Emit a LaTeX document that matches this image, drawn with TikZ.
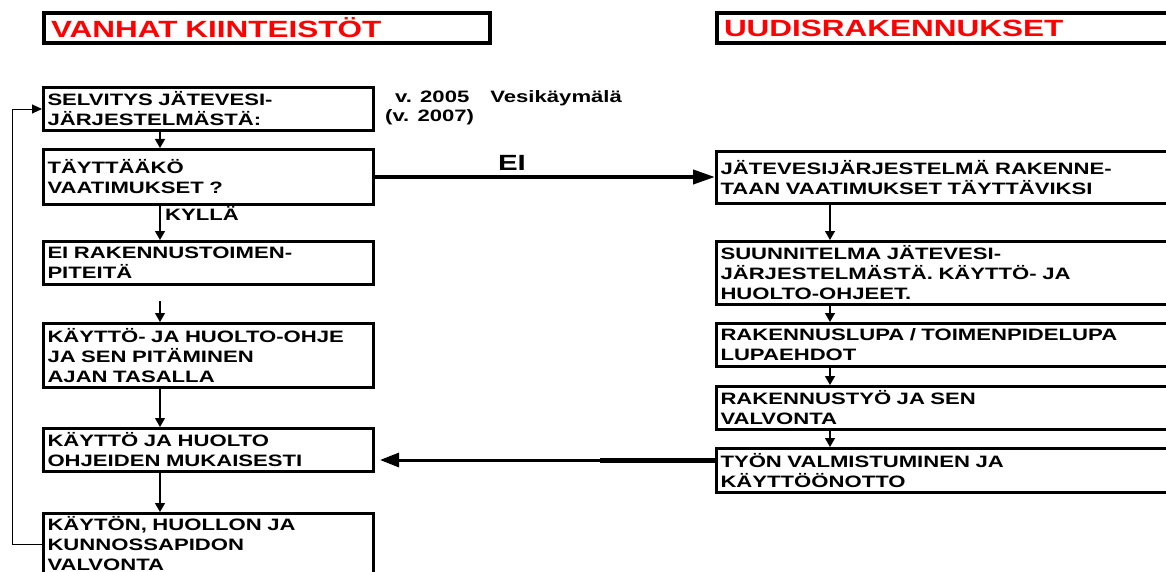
\documentclass[tikz,border=0pt]{standalone}
\usepackage{fontspec}
\setmainfont{Liberation Sans}
\newfontfamily\stretchf[FakeStretch=1.34]{Liberation Sans}
\usetikzlibrary{arrows.meta,calc}
\definecolor{titlered}{RGB}{255,0,0}
\begin{document}
\begin{tikzpicture}[x=1pt,y=-1pt,
  base/.style={draw,line width=3pt,anchor=north west,inner xsep=4pt,inner ysep=0pt,align=left,
    font=\stretchf\bfseries\fontsize{16.5}{20}\selectfont},
  lbox/.style={base,text width=322pt,minimum height=#1},
  rbox/.style={base,text width=452pt,minimum height=#1},
  titlebox/.style={draw,line width=4pt,anchor=north west,inner xsep=7pt,inner ysep=0pt,align=left,
    minimum height=30pt,text=titlered,font=\stretchf\bfseries\fontsize{23.5}{26}\selectfont},
  ann/.style={inner sep=0pt,anchor=base west,font=\stretchf\bfseries\fontsize{16.5}{20}\selectfont},
  lab/.style={inner sep=0pt,font=\stretchf\bfseries\fontsize{16.5}{20}\selectfont},
  arr/.style={line width=1.3pt,-{Triangle[length=9pt,width=10pt]}},
  fbarr/.style={line width=0.9pt,-{Triangle[length=10pt,width=9pt]}},
  bigarr/.style={line width=4pt,-{Triangle[length=22pt,width=14pt]}}
]
\useasboundingbox (0,0) rectangle (1166,572);
\fill[white] (0,0) rectangle (1166,572);

% titles
\node[titlebox,text width=432pt] (tl) at (42,11) {VANHAT KIINTEISTÖT};
\node[titlebox,text width=446pt] (tr) at (715,11) {UUDISRAKENNUKSET};

% left column
\node[lbox=43pt] (sel) at (42,86) {SELVITYS JÄTEVESI-\\JÄRJESTELMÄSTÄ:};
\node[lbox=55pt] (tay) at (42,148) {TÄYTTÄÄKÖ\\VAATIMUKSET ?};
\node[lbox=43pt] (eir) at (42,240) {EI RAKENNUSTOIMEN-\\PITEITÄ};
\node[lbox=64pt] (kho) at (42,322) {KÄYTTÖ- JA HUOLTO-OHJE\\JA SEN PITÄMINEN\\AJAN TASALLA};
\node[lbox=43pt] (kjh) at (42,427) {KÄYTTÖ JA HUOLTO\\OHJEIDEN MUKAISESTI};
\node[lbox=61pt] (kvn) at (42,512) {KÄYTÖN, HUOLLON JA\\KUNNOSSAPIDON\\VALVONTA};

% annotations
\node[ann] (a1) at (395,103) {v. 2005\hspace{21pt}Vesikäymälä};
\node[ann] (a2) at (385,122) {(v. 2007)};

% right column
\node[rbox=52pt] (jat) at (715,150) {JÄTEVESIJÄRJESTELMÄ RAKENNE-\\TAAN VAATIMUKSET TÄYTTÄVIKSI};
\node[rbox=63pt] (suu) at (715,240) {SUUNNITELMA JÄTEVESI-\\JÄRJESTELMÄSTÄ. KÄYTTÖ- JA\\HUOLTO-OHJEET.};
\node[rbox=43pt] (rlu) at (715,322) {RAKENNUSLUPA / TOIMENPIDELUPA\\LUPAEHDOT};
\node[rbox=43pt] (rty) at (715,385) {RAKENNUSTYÖ JA SEN\\VALVONTA};
\node[rbox=44pt] (tyo) at (715,447) {TYÖN VALMISTUMINEN JA\\KÄYTTÖÖNOTTO};

% helper coordinates
\coordinate (lx) at (160,0);
\coordinate (rx) at (830,0);
\coordinate (fb) at (12,0);
\coordinate (g1) at (160,301);

% left arrows
\draw[arr] (sel.south -| lx) -- (tay.north -| lx);
\draw[arr] (tay.south -| lx) -- (eir.north -| lx);
\node[lab,anchor=west] (kyl) at (165,213) {KYLLÄ};
\draw[arr] (g1) -- (kho.north -| g1);
\draw[arr] (kho.south -| lx) -- (kjh.north -| lx);
\draw[arr] (kjh.south -| lx) -- (kvn.north -| lx);

% feedback
\draw[fbarr] (kvn.west) -- (kvn.west -| fb) |- (sel.west);

% EI arrow
\draw[bigarr] (tay.east) -- (tay.east -| jat.west);
\node[lab,font=\stretchf\bfseries\fontsize{22}{24}\selectfont] (ei) at (512,163) {EI};

% right arrows
\draw[arr] (jat.south -| rx) -- (suu.north -| rx);
\draw[arr] (suu.south -| rx) -- (rlu.north -| rx);
\draw[arr] (rlu.south -| rx) -- (rty.north -| rx);
\draw[arr] (rty.south -| rx) -- (tyo.north -| rx);

% return arrow
\coordinate (r1) at ($(tyo.north west)+(0,13)$);
\coordinate (rm) at (600,0);
\draw[line width=5pt] (r1) -- (r1 -| rm);
\draw[line width=3pt,-{Triangle[length=19pt,width=14pt]}] (r1 -| rm) -- ($(r1 -| kjh.east)+(5,0)$);
\end{tikzpicture}
\end{document}
